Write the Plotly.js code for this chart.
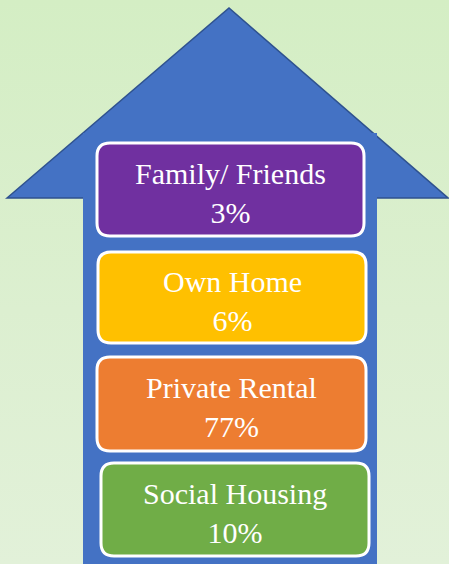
<!DOCTYPE html>
<html>
<head>
<meta charset="utf-8">
<script src="https://cdn.plot.ly/plotly-3.0.1.min.js"></script>
<style>
  html, body { margin: 0; padding: 0; }
  body { width: 449px; height: 564px; position: relative; overflow: hidden; background: linear-gradient(to bottom, #d4eec4 0%, #dcefd0 55%, #e2f1d9 100%); }
  #chart { width: 449px; height: 564px; position: relative; z-index: 1; }
  #fontprime { position: absolute; left: -9999px; top: 0; visibility: hidden; white-space: nowrap; font-family: 'Liberation Serif'; font-size: 30px; }
</style>
</head>
<body>
<div id="fontprime" aria-hidden="true">Family/ Friends 3% Own Home 6% Private Rental 77% Social Housing 10%</div>
<div id="chart"></div>
<script>
// ---- data ----
const categories = ["Family/ Friends", "Own Home", "Private Rental", "Social Housing"];
const shares = [3, 6, 77, 10];
const boxColors = ["#7030A0", "#FFC000", "#ED7D31", "#70AD47"];

// ---- layout geometry (pixel-space axes) ----
const boxX0 = [97, 98, 97, 101];
const boxX1 = [364, 366, 366, 369];
const boxY0 = [143, 252, 357, 463];
const boxY1 = [236, 343, 451, 556];
const radius = 13;
const textShift = 3;

// make the browser resolve the serif face at the label size before Plotly measures text
void document.getElementById("fontprime").getBoundingClientRect().width;

function roundRect(x0, y0, x1, y1, r) {
  return "M" + (x0 + r) + "," + y0 +
    " L" + (x1 - r) + "," + y0 +
    " Q" + x1 + "," + y0 + " " + x1 + "," + (y0 + r) +
    " L" + x1 + "," + (y1 - r) +
    " Q" + x1 + "," + y1 + " " + (x1 - r) + "," + y1 +
    " L" + (x0 + r) + "," + y1 +
    " Q" + x0 + "," + y1 + " " + x0 + "," + (y1 - r) +
    " L" + x0 + "," + (y0 + r) +
    " Q" + x0 + "," + y0 + " " + (x0 + r) + "," + y0 + " Z";
}

function buildLayout() {
  const shapes = [
    // arrow head
    { type: "path", xref: "x", yref: "y", layer: "below",
      path: "M7,198 L229,8 L448,198 Z",
      fillcolor: "#4472C4", line: { color: "#2F528F", width: 1.5 } },
    // arrow shaft
    { type: "rect", xref: "x", yref: "y", layer: "below",
      x0: 83, x1: 377, y0: 133, y1: 570,
      fillcolor: "#4472C4", line: { width: 0 } }
  ];
  categories.forEach((c, i) => {
    shapes.push({
      type: "path", xref: "x", yref: "y", layer: "below",
      path: roundRect(boxX0[i], boxY0[i], boxX1[i], boxY1[i], radius),
      fillcolor: boxColors[i], line: { color: "#FFFFFF", width: 3 }
    });
  });

  const annotations = categories.map((c, i) => ({
    xref: "x", yref: "y",
    x: (boxX0[i] + boxX1[i]) / 2,
    y: (boxY0[i] + boxY1[i]) / 2 + textShift,
    text: c + "<br>" + shares[i] + "%",
    showarrow: false, xanchor: "center", yanchor: "middle", align: "center",
    font: { family: "Liberation Serif", size: 30, color: "#FFFFFF" }
  }));

  return {
    width: 449, height: 564,
    margin: { l: 0, r: 0, t: 0, b: 0 },
    paper_bgcolor: "rgba(0,0,0,0)",
    plot_bgcolor: "rgba(0,0,0,0)",
    xaxis: { range: [0, 449], visible: false, fixedrange: true },
    yaxis: { range: [564, 0], visible: false, fixedrange: true },
    shapes: shapes,
    annotations: annotations,
    showlegend: false
  };
}

const config = { displayModeBar: false, staticPlot: true };
Plotly.newPlot("chart", [], buildLayout(), config);

// full redraw once the serif face is confirmed ready
if (document.fonts && document.fonts.load) {
  document.fonts.load("30px 'Liberation Serif'", "Family/ Friends 3%").then(() => {
    Plotly.purge("chart");
    Plotly.newPlot("chart", [], buildLayout(), config);
  }).catch(() => {});
}
</script>
</body>
</html>
